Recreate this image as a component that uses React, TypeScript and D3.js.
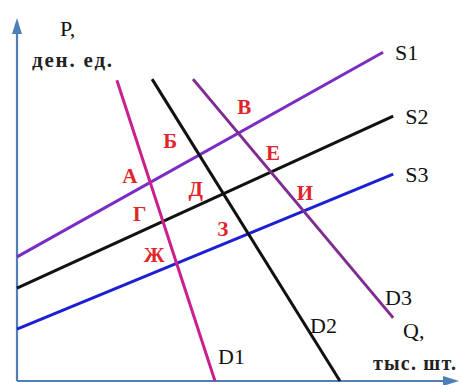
import { useMemo } from "react";
import * as d3 from "d3";

const WIDTH = 463;
const HEIGHT = 385;
const ORIGIN = { x: 17, y: 381 };
const AXIS_END = { x: 459, y: 18 };

// chart units: Q along x, P along y (0..10 each)
const qDomain = [0, 10];
const pDomain = [0, 10];

// supply curves: [q0, p0, q1, p1]
const supplyNames = ["S1", "S2", "S3"];
const supplyLines = [
  [0, 3.42, 8.32, 9.06],
  [0, 2.56, 8.55, 7.3],
  [0, 1.43, 8.55, 5.7],
];

// demand curves: [q0, p0, q1, p1]
const demandNames = ["D1", "D2", "D3"];
const demandLines = [
  [2.27, 8.29, 4.5, 0],
  [3.07, 8.32, 7.34, 0],
  [4.0, 8.32, 8.55, 1.74],
];

// equilibrium point labels, rows = supply, cols = demand
const pointLabels = [
  ["А", "Б", "В"],
  ["Г", "Д", "Е"],
  ["Ж", "З", "И"],
];

const supplyColors = ["#7a2cc4", "#111111", "#1d1fd2"];
const demandColors = ["#c9208e", "#111111", "#7f2c92"];
// label offset from intersection, px
const labelOffsets = [
  [[-28, 1], [-36, -7], [-1, -19]],
  [[-30, 0], [-35, 2], [-5, -12]],
  [[-33, -1], [-31, 2], [-7, -11]],
];

const serif = "'Liberation Serif', 'Times New Roman', serif";

function intersect(a: number[], b: number[]) {
  const [x1, y1, x2, y2] = a;
  const [x3, y3, x4, y4] = b;
  const den = (x1 - x2) * (y3 - y4) - (y1 - y2) * (x3 - x4);
  const t = ((x1 - x3) * (y3 - y4) - (y1 - y3) * (x3 - x4)) / den;
  return [x1 + t * (x2 - x1), y1 + t * (y2 - y1)];
}

export default function App() {
  const { x, y } = useMemo(() => {
    const x = d3.scaleLinear().domain(qDomain).range([ORIGIN.x, 457]);
    const y = d3.scaleLinear().domain(pDomain).range([ORIGIN.y, 18.2]);
    return { x, y };
  }, []);

  const line = d3
    .line<number[]>()
    .x((d) => x(d[0]))
    .y((d) => y(d[1]));

  const seg = (l: number[]) => line([[l[0], l[1]], [l[2], l[3]]]) || "";

  const axisColor = "#4f7fb8";

  return (
    <svg
      width={WIDTH}
      height={HEIGHT}
      style={{ position: "absolute", left: 0, top: 0, background: "#fff" }}
      fontFamily={serif}
    >
      {/* axes */}
      <line x1={ORIGIN.x} y1={ORIGIN.y} x2={ORIGIN.x} y2={AXIS_END.y + 10} stroke={axisColor} strokeWidth={2.2} />
      <line x1={ORIGIN.x} y1={ORIGIN.y} x2={AXIS_END.x - 10} y2={ORIGIN.y} stroke={axisColor} strokeWidth={2.2} />
      <path
        d={`M${ORIGIN.x},${AXIS_END.y} L${ORIGIN.x - 5},${AXIS_END.y + 16} L${ORIGIN.x + 5},${AXIS_END.y + 16} Z`}
        fill={axisColor}
      />
      <path
        d={`M${AXIS_END.x},${ORIGIN.y} L${AXIS_END.x - 16},${ORIGIN.y - 5} L${AXIS_END.x - 16},${ORIGIN.y + 5} Z`}
        fill={axisColor}
      />

      {/* curves */}
      {supplyLines.map((l, i) => (
        <path key={supplyNames[i]} d={seg(l)} stroke={supplyColors[i]} strokeWidth={3} fill="none" />
      ))}
      {demandLines.map((l, i) => (
        <path key={demandNames[i]} d={seg(l)} stroke={demandColors[i]} strokeWidth={3} fill="none" />
      ))}

      {/* curve names */}
      {supplyLines.map((l, i) => (
        <text key={"t" + i} x={x(l[2]) + 12} y={y(l[3]) + 8} fontSize={22} fill="#111">
          {supplyNames[i]}
        </text>
      ))}
      <text x={218} y={364} fontSize={22} fill="#111">{demandNames[0]}</text>
      <text x={310} y={333} fontSize={22} fill="#111">{demandNames[1]}</text>
      <text x={385} y={305} fontSize={22} fill="#111">{demandNames[2]}</text>

      {/* intersection labels */}
      {supplyLines.map((s, i) =>
        demandLines.map((dl, j) => {
          const [q, p] = intersect(s, dl);
          const [dx, dy] = labelOffsets[i][j];
          return (
            <text
              key={pointLabels[i][j]}
              x={x(q) + dx}
              y={y(p) + dy}
              fontSize={21}
              fontWeight="bold"
              fill="#e0262a"
            >
              {pointLabels[i][j]}
            </text>
          );
        })
      )}

      {/* axis titles */}
      <text x={60} y={36} fontSize={22} fill="#111">P,</text>
      <text x={32} y={67} fontSize={21} fontWeight="bold" letterSpacing={1.8} fill="#222">ден. ед.</text>
      <text x={403} y={338} fontSize={22} fill="#111">Q,</text>
      <text x={373} y={370} fontSize={20} fontWeight="bold" letterSpacing={1.2} fill="#222">тыс. шт.</text>
    </svg>
  );
}
